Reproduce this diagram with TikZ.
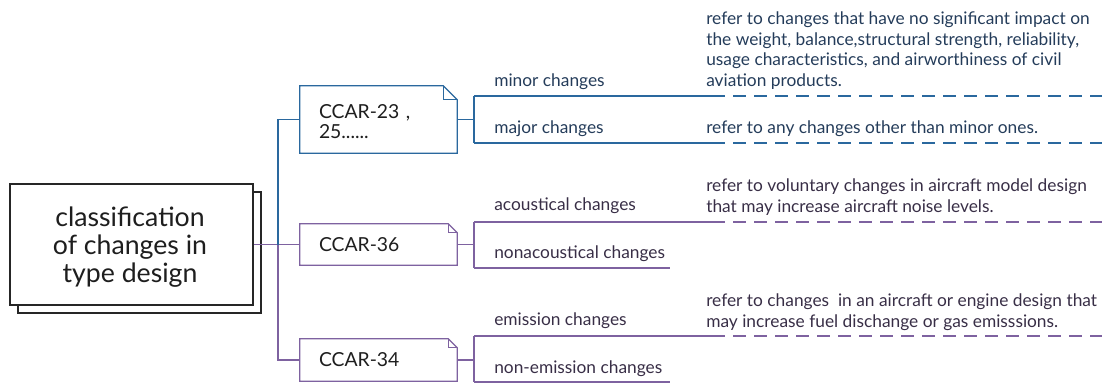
\documentclass[tikz,border=0pt]{standalone}
\usepackage{fontspec}
\setmainfont{Lato}
\definecolor{cblue}{RGB}{42,104,158}
\definecolor{cpurp}{RGB}{126,98,160}
\definecolor{tblue}{RGB}{36,60,90}
\definecolor{tpurp}{RGB}{56,46,70}
\definecolor{tbox}{RGB}{30,30,30}
\tikzset{
  conn/.style={line width=1.1pt},
  dashpart/.style={line width=1.1pt, dash pattern=on 9.75pt off 6pt},
  lbl/.style={anchor=base west, inner sep=0pt, font=\fontsize{13}{15.5}\selectfont},
  desc/.style={anchor=base west, inner sep=0pt, align=left, font=\fontsize{13}{15.5}\selectfont},
  ccar/.style={minimum width=117.75pt, inner xsep=14.25pt, inner ysep=0pt, text width=89.25pt, align=left,
               font=\fontsize{14.5}{15}\selectfont, text=tbox},
  mainbox/.style={draw=black!85, line width=1pt, fill=white, minimum width=182.25pt, minimum height=90.75pt},
}
\newcommand{\foldbox}[3]{% node, colour, fold size
  \draw[#2, line width=1pt, fill=white]
    (#1.south west) -- (#1.north west) -- ([xshift=-#3]#1.north east) -- ([yshift=-#3]#1.north east) -- (#1.south east) -- cycle;
  \draw[#2, line width=1pt]
    ([xshift=-#3]#1.north east) -- ([xshift=-#3,yshift=-#3]#1.north east) -- ([yshift=-#3]#1.north east);
}
\begin{document}
\begin{tikzpicture}[x=0.75pt,y=-0.75pt]
\useasboundingbox (0,0) rectangle (1102,383);

% main box with shadow copy
\node[mainbox] (mainshadow) at (139.5,252.5) {};
\node[mainbox] (main) at (131.5,244.5) {};
\node[align=center, inner sep=0pt, font=\fontsize{20}{21}\selectfont, text=tbox] (maintext) at (130,247)
  {classification\\of changes in\\type design};

% CCAR boxes
\node[ccar, minimum height=50.25pt] (c23) at (378.5,119.5) {};
\foldbox{c23}{cblue}{10.5pt}
\node[ccar, minimum height=50.25pt] at (378.5,122) {CCAR-23 ,\\25......};

\node[ccar, minimum height=30.75pt] (c36) at (378.5,244.5) {};
\foldbox{c36}{cpurp}{6.75pt}
\node[ccar, minimum height=30.75pt] at (c36.center) {CCAR-36};

\node[ccar, minimum height=31.5pt] (c34) at (378.5,360) {};
\foldbox{c34}{cpurp}{6.75pt}
\node[ccar, minimum height=31.5pt] at (c34.center) {CCAR-34};

% trunk
\coordinate (t23) at (278,119.5);
\coordinate (t36) at (278,244.5);
\coordinate (t34) at (278,360);
\draw[conn, cpurp] (main.east) -- (c36.west);
\draw[conn, cpurp] (t36) -- (t34) -- (c34.west);
\draw[conn, cblue] (t36) -- (t23) -- (c23.west);

% branch coordinates
\coordinate (b23) at (474,119.5);
\coordinate (minorL) at (474,96);
\coordinate (majorL) at (474,143);
\coordinate (minorM) at (712,96);
\coordinate (majorM) at (712,143);
\coordinate (minorR) at (1102,96);
\coordinate (majorR) at (1102,143);

\coordinate (b36) at (474,244.5);
\coordinate (acL) at (474,222);
\coordinate (nacL) at (474,268);
\coordinate (acM) at (712,222);
\coordinate (acR) at (1102,222);
\coordinate (nacR) at (670,268);

\coordinate (b34) at (474,360);
\coordinate (emL) at (474,336);
\coordinate (nemL) at (474,382);
\coordinate (emM) at (712,336);
\coordinate (emR) at (1102,336);
\coordinate (nemR) at (670,382);

\draw[conn, cblue] (c23.east) -- (b23);
\draw[conn, cblue] (minorL) -- (majorL);
\draw[conn, cblue] (minorL) -- (minorM);
\draw[dashpart, cblue] (minorM) -- (minorR);
\draw[conn, cblue] (majorL) -- (majorM);
\draw[dashpart, cblue] (majorM) -- (majorR);

\draw[conn, cpurp] (c36.east) -- (b36);
\draw[conn, cpurp] (acL) -- (nacL);
\draw[conn, cpurp] (acL) -- (acM);
\draw[dashpart, cpurp] (acM) -- (acR);
\draw[conn, cpurp] (nacL) -- (nacR);

\draw[conn, cpurp] (c34.east) -- (b34);
\draw[conn, cpurp] (emL) -- (nemL);
\draw[conn, cpurp] (emL) -- (emM);
\draw[dashpart, cpurp] (emM) -- (emR);
\draw[conn, cpurp] (nemL) -- (nemR);

% labels
\node[lbl, text=tblue] (lminor) at (494,86) {minor changes};
\node[lbl, text=tblue] (lmajor) at (494,133) {major changes};
\node[lbl, text=tpurp] (lac) at (494,210) {acoustical changes};
\node[lbl, text=tpurp] (lnac) at (494,258) {nonacoustical changes};
\node[lbl, text=tpurp] (lem) at (494,325) {emission changes};
\node[lbl, text=tpurp] (lnem) at (494,373) {non-emission changes};

% descriptions (base anchor = last line's baseline)
\node[desc, text=tblue] (dminor) at (706,86.5) {refer to changes that have no significant impact on\\the weight, balance,structural strength, reliability,\\usage characteristics, and airworthiness of civil\\aviation products.};
\node[desc, text=tblue] (dmajor) at (706,133) {refer to any changes other than minor ones.};
\node[desc, text=tpurp] (dac) at (706,212) {refer to voluntary changes in aircraft model design\\that may increase aircraft noise levels.};
\node[desc, text=tpurp] (dem) at (706,327) {refer to changes\ \ in an aircraft or engine design that\\may increase fuel dischange or gas emisssions.};
\end{tikzpicture}
\end{document}
